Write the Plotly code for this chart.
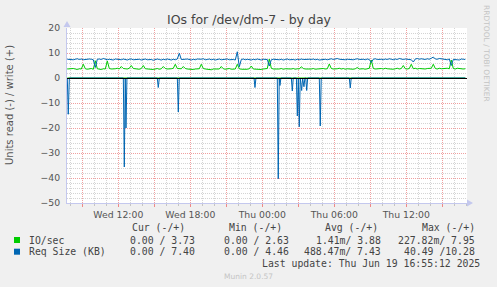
import plotly.graph_objects as go

# ---------------- data ----------------
# time axis: hours since Wed 00:00, 10-minute samples for the write (+) series
t_start = 7.75
t_step = 1.0 / 6.0

io_write = [3.6, 3.7, 3.5, 3.8, 3.6, 3.4, 3.7, 3.6, 5.5, 3.7, 3.5, 3.6, 3.8, 3.5, 6.9, 3.7, 3.6, 3.4, 3.7, 3.6,
            6.8, 3.8, 3.6, 3.5, 3.7, 3.9, 3.6, 4.6, 3.8, 3.7, 3.6, 3.9, 5.0, 3.8, 3.6, 3.7, 3.5, 3.8, 5.0, 3.7,
            3.6, 3.5, 3.7, 3.4, 3.6, 3.8, 3.5, 3.7, 4.6, 3.8, 3.6, 3.5, 3.7, 3.9, 5.5, 3.8, 3.6, 3.7, 4.6, 3.8,
            3.6, 3.5, 3.7, 3.4, 3.6, 3.5, 3.7, 5.5, 3.8, 3.6, 3.4, 3.5, 3.3, 3.6, 3.5, 3.7, 3.6, 4.6, 3.7, 3.5,
            3.6, 3.8, 3.5, 3.7, 3.6, 5.5, 3.7, 3.5, 3.4, 3.6, 3.5, 3.7, 4.8, 3.6, 3.5, 3.7, 3.6, 3.4, 3.6, 3.7,
            3.8, 7.6, 3.9, 3.6, 3.5, 3.7, 3.6, 3.8, 3.5, 3.7, 3.6, 3.4, 3.6, 3.8, 3.5, 3.7, 3.6, 4.5, 3.8, 3.6,
            3.5, 3.7, 3.6, 3.8, 3.5, 3.6, 3.7, 3.5, 3.8, 3.6, 3.7, 5.6, 3.8, 3.6, 3.5, 3.7, 3.9, 3.6, 3.8, 3.5,
            3.7, 3.6, 3.8, 3.5, 3.7, 4.2, 3.6, 3.8, 3.7, 3.5, 3.6, 3.9, 7.2, 3.8, 3.6, 3.7, 3.5, 3.8, 3.6, 3.9,
            3.7, 3.6, 3.8, 3.5, 3.7, 3.9, 3.6, 3.8, 5.0, 3.7, 3.6, 3.8, 5.5, 3.7, 3.9, 3.6, 3.8, 3.7, 3.9, 3.6,
            3.8, 3.7, 3.9, 5.5, 3.8, 3.6, 3.9, 3.7, 3.8, 3.6, 3.9, 3.7, 7.2, 3.8, 3.6, 3.9, 3.7, 3.8, 3.6, 3.7]

req_write = [7.5, 7.4, 7.6, 7.3, 7.5, 7.7, 7.4, 7.6, 7.3, 7.5, 7.4, 7.6, 7.5, 7.3, 4.2, 7.5, 7.6, 7.4, 7.8, 7.5,
             7.3, 7.5, 7.4, 7.2, 7.6, 7.4, 7.5, 7.3, 7.6, 7.4, 7.2, 7.5, 7.6, 7.3, 7.4, 7.6, 7.5, 7.2, 7.4, 7.6,
             7.3, 7.5, 7.4, 7.1, 7.3, 7.6, 7.4, 7.2, 7.5, 7.3, 7.6, 7.4, 7.2, 7.5, 7.3, 7.6, 9.9, 7.4, 7.3, 7.5,
             7.6, 7.4, 7.2, 7.5, 7.3, 7.6, 7.4, 7.5, 7.7, 7.3, 7.4, 7.6, 7.3, 7.5, 7.2, 7.4, 7.6, 7.3, 7.5, 7.4,
             7.6, 7.3, 7.5, 7.4, 7.2, 10.5, 4.5, 7.4, 7.6, 7.3, 7.5, 7.4, 7.2, 7.5, 7.3, 7.6, 7.4, 7.2, 7.5, 7.3,
             7.4, 4.8, 7.3, 7.5, 7.4, 7.6, 7.3, 7.5, 7.2, 7.4, 7.6, 7.3, 7.5, 7.4, 7.2, 7.5, 7.3, 7.6, 7.4, 7.5,
             7.3, 7.5, 7.4, 7.6, 7.3, 7.5, 7.2, 7.4, 7.6, 7.5, 7.3, 7.5, 7.7, 7.4, 7.6, 7.8, 7.5, 7.4, 7.6, 7.3,
             7.5, 7.4, 7.6, 7.3, 7.5, 7.7, 7.4, 7.6, 7.5, 7.3, 7.6, 7.4, 6.2, 7.5, 7.7, 7.4, 7.6, 7.5, 7.3, 7.6,
             7.4, 7.7, 7.5, 7.3, 7.6, 7.4, 7.8, 7.5, 7.4, 7.6, 7.5, 7.7, 7.3, 6.4, 7.6, 7.8, 7.5, 7.7, 7.6, 7.4,
             7.7, 7.5, 7.9, 8.4, 7.6, 7.5, 7.8, 7.6, 7.4, 7.5, 7.3, 7.6, 5.0, 7.4, 7.5, 7.3, 7.2, 7.6, 7.5, 7.4]

# read (-) request size: zero except for short spikes (time in hours, value)
read_t = [7.75, 7.83, 7.92, 12.42, 12.50, 12.58, 12.64, 12.72, 15.25, 15.33, 15.42,
          16.92, 17.00, 17.08, 23.31, 23.39, 23.47, 25.25, 25.33, 25.41, 25.47, 25.55,
          26.42, 26.50, 26.58, 26.84, 26.92, 27.00, 27.08, 27.16, 27.28, 27.36, 27.47, 27.55,
          27.62, 27.70, 27.78, 28.75, 28.83, 28.91, 31.25, 31.33, 31.41, 40.92]
read_v = [0, -14.5, 0, 0, -35.6, 0, -20.0, 0, 0, -3.8, 0,
          0, -13.6, 0, 0, -3.8, 0, 0, -40.3, 0, -3.0, 0,
          0, -5.2, 0, 0, -15.2, 0, -19.5, 0, -5.0, 0, -3.5, 0,
          0, -5.0, 0, 0, -19.2, 0, 0, -4.0, 0, 0]
# read (-) IO/sec stays at ~0 (max 0.23)
io_read_t = [7.75, 40.92]
io_read = [0, 0]

x_tickvals = [9, 12, 15, 18, 21, 24, 27, 30, 33, 36, 39]
x_ticktext = ["", "Wed 12:00", "", "Wed 18:00", "", "Thu 00:00", "",
              "Thu 06:00", "", "Thu 12:00", ""]
y_tickvals = [-50, -40, -30, -20, -10, 0, 10, 20]

legend_header = ["Cur (-/+)", "Min (-/+)", "Avg (-/+)", "Max (-/+)"]
legend_names = ["IO/sec", "Req Size (KB)"]
legend_rows = [["0.00 / 3.73", "0.00 / 2.63", "1.41m/ 3.88", "227.82m/ 7.95"],
               ["0.00 / 7.40", "0.00 / 4.46", "488.47m/ 7.43", "40.49 /10.28"]]
colors = ["#00cc00", "#0066b3"]

# ---------------- figure ----------------
W, H = 497, 287
L, R, T, B = 67, 30, 28, 84
PW, PH = W - L - R, H - T - B
X0 = 7.725
X1 = X0 + PW / 12.0


def px(x):
    return (x - L) / PW


def py(y):
    return (T + PH - y) / PH


tw = [t_start + i * t_step for i in range(len(io_write))]

fig = go.Figure()
fig.add_trace(go.Scatter(x=io_read_t, y=io_read, mode="lines",
                         line=dict(color=colors[0], width=1), showlegend=False))
fig.add_trace(go.Scatter(x=read_t, y=read_v, mode="lines",
                         line=dict(color=colors[1], width=1), showlegend=False))
fig.add_trace(go.Scatter(x=tw, y=io_write, mode="lines",
                         line=dict(color=colors[0], width=1), showlegend=False))
fig.add_trace(go.Scatter(x=tw, y=req_write, mode="lines",
                         line=dict(color=colors[1], width=1), showlegend=False))

grid_minor = "#d4d4d4"
grid_major = "#f0a0a0"
axis_col = "#c4c8ee"
txt = "#555555"

fig.update_xaxes(range=[X0, X1], tickvals=x_tickvals, ticktext=x_ticktext,
                 showgrid=True, gridcolor=grid_major, griddash="1px,1px", gridwidth=1,
                 ticks="outside", ticklen=3, tickcolor="#ee8888", tickwidth=1,
                 minor=dict(dtick=1, tick0=0, showgrid=True, gridcolor=grid_minor,
                            griddash="1px,1px", ticks="outside", ticklen=2,
                            tickcolor="#c4c4c4"),
                 showline=True, linecolor=axis_col, linewidth=1, zeroline=False,
                 tickfont=dict(family="DejaVu Sans", size=9.3, color=txt),
                 fixedrange=True)
fig.update_yaxes(range=[-50, 20], tickvals=y_tickvals,
                 showgrid=True, gridcolor=grid_major, griddash="1px,1px", gridwidth=1,
                 minor=dict(dtick=2, tick0=0, showgrid=True, gridcolor=grid_minor,
                            griddash="1px,1px"),
                 showline=True, linecolor=axis_col, linewidth=1,
                 zeroline=False,
                 ticks="", ticklabelstandoff=4,
                 tickfont=dict(family="DejaVu Sans", size=9.3, color=txt),
                 fixedrange=True)


def a(text, x, y, font, xanchor="center", yanchor="middle", angle=0):
    return dict(text=text, x=px(x), y=py(y), xref="paper", yref="paper",
                xanchor=xanchor, yanchor=yanchor, showarrow=False, textangle=angle,
                font=font)


ann = []
ann.append(a("IOs for /dev/dm-7 - by day", 249, 19,
             dict(family="DejaVu Sans", size=12.5, color="#444444")))
ann.append(a("Units read (-) / write (+)", 10, 105,
             dict(family="DejaVu Sans", size=10, color=txt), angle=-90))
ann.append(a("RRDTOOL / TOBI OETIKER", 487, 53,
             dict(family="DejaVu Sans", size=7.5, color="#c4c4c4"), angle=90))

mono = dict(family="DejaVu Sans Mono", size=9.8, color="#444444")
col_right = [187.3, 284, 380, 476.7]
row_right = [196.7, 290.7, 383.3, 476.7]
for j, h in enumerate(legend_header):
    ann.append(a(h, col_right[j], 227.7, mono, xanchor="right"))
row_y = [240, 251.7]
for r in range(2):
    ann.append(a(legend_names[r], 26.7, row_y[r], mono, xanchor="left"))
    for j, v in enumerate(legend_rows[r]):
        ann.append(a(v.replace(" ", "&nbsp;"), row_right[j], row_y[r], mono, xanchor="right"))
ann.append(a("Last update: Thu Jun 19 16:55:12 2025".replace(" ", "&nbsp;"),
             482, 263.3, mono, xanchor="right"))
ann.append(a("Munin 2.0.57", 248, 276,
             dict(family="DejaVu Sans", size=7.5, color="#c4c4c4")))

shapes = []
for r in range(2):
    shapes.append(dict(type="rect", xref="paper", yref="paper",
                       x0=px(14), x1=px(20), y0=py(row_y[r] - 3), y1=py(row_y[r] + 3),
                       fillcolor=colors[r], line=dict(width=0)))
# black zero rule drawn above the series (pixel row of y=0, centred for a crisp 1px line)
zero_px = T + 20 * PH / 70 + 0.5
shapes.append(dict(type="line", xref="paper", yref="paper", x0=0, x1=1,
                   y0=py(zero_px), y1=py(zero_px),
                   line=dict(color="#000000", width=1), layer="above"))
# axis arrows
shapes.append(dict(type="path", xref="paper", yref="paper",
                   path=f"M {px(63.5)} {py(27)} L {px(70.5)} {py(27)} L {px(67)} {py(21)} Z",
                   fillcolor=axis_col, line=dict(width=0)))
shapes.append(dict(type="path", xref="paper", yref="paper",
                   path=f"M {px(467)} {py(199.5)} L {px(467)} {py(206.5)} L {px(473)} {py(203)} Z",
                   fillcolor=axis_col, line=dict(width=0)))

fig.update_layout(width=W, height=H, margin=dict(l=L, r=R, t=T, b=B, pad=0),
                  paper_bgcolor="#f0f0f0", plot_bgcolor="#ffffff",
                  annotations=ann, shapes=shapes, showlegend=False)

fig.write_html("out.html", config={"displayModeBar": False})
